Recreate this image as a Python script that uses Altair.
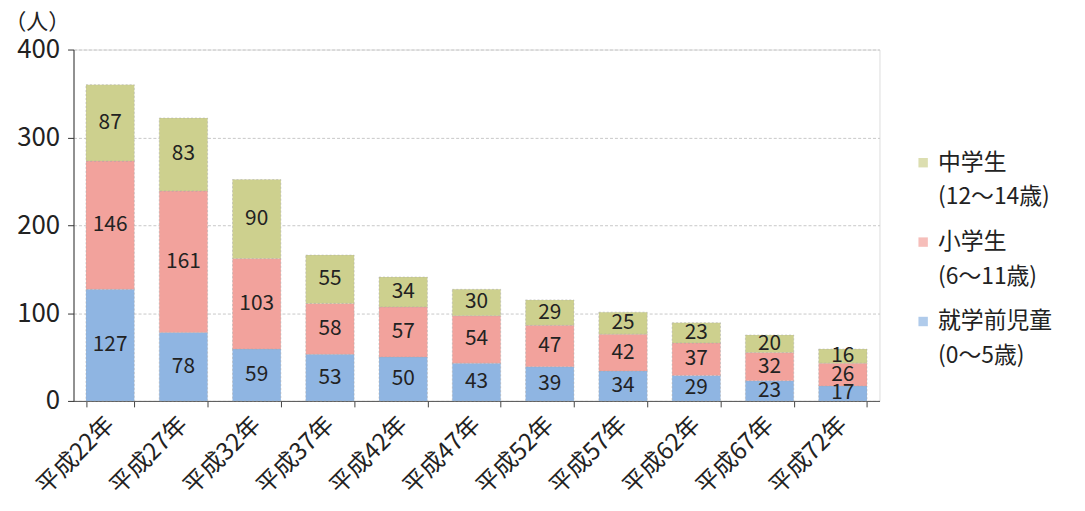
import altair as alt
import pandas as pd

years = ["平成22年", "平成27年", "平成32年", "平成37年", "平成42年", "平成47年",
         "平成52年", "平成57年", "平成62年", "平成67年", "平成72年"]
preschool = [127, 78, 59, 53, 50, 43, 39, 34, 29, 23, 17]
elementary = [146, 161, 103, 58, 57, 54, 47, 42, 37, 32, 26]
junior = [87, 83, 90, 55, 34, 30, 29, 25, 23, 20, 16]

series = ["中学生|(12～14歳)", "小学生|(6～11歳)", "就学前児童|(0～5歳)"]
colors = ["#cdd08e", "#f2a29c", "#8fb5e2"]

rows = []
for i, y in enumerate(years):
    rows.append({"year": y, "group": series[2], "value": preschool[i], "rank": 0})
    rows.append({"year": y, "group": series[1], "value": elementary[i], "rank": 1})
    rows.append({"year": y, "group": series[0], "value": junior[i], "rank": 2})
df = pd.DataFrame(rows)

FONT = "Noto Sans CJK JP"

base = alt.Chart(df).transform_stack(
    stack="value", groupby=["year"], as_=["v0", "v1"],
    sort=[alt.SortField("rank", order="ascending")]
).transform_calculate(mid="(datum.v0 + datum.v1) / 2")

xenc = alt.X("year:N", sort=years, title=None,
             scale=alt.Scale(paddingInner=0.34, paddingOuter=0.17),
             axis=alt.Axis(labelAngle=-45, labelAlign="right", labelBaseline="middle",
                           labelFontSize=24, labelFont=FONT, labelColor="#222",
                           tickBand="extent", tickColor="#444", tickSize=6, grid=False,
                           domainColor="#555", labelPadding=14, labelLimit=300))

bars = base.mark_bar(stroke="#a8a8a8", strokeWidth=0.5, strokeDash=[2, 2]).encode(
    x=xenc,
    y=alt.Y("v0:Q", scale=alt.Scale(domain=[0, 400]),
            axis=alt.Axis(values=[0, 100, 200, 300, 400], title="（人）", titleAngle=0,
                          titleX=-70, titleY=-28, titleFontSize=22, titleFont=FONT,
                          titleFontWeight="normal", titleColor="#222", titleAlign="left",
                          titleBaseline="middle",
                          labelFontSize=26, labelFont=FONT, labelColor="#222",
                          gridColor="#c8c8c8", gridDash=[3, 2], tickSize=6,
                          tickColor="#333", domainColor="#333", labelPadding=8)),
    y2="v1:Q",
    color=alt.Color("group:N", scale=alt.Scale(domain=series, range=colors), legend=None),
)

labels = base.mark_text(fontSize=21, font=FONT, color="#222").encode(
    x=alt.X("year:N", sort=years),
    y="mid:Q",
    text="value:Q",
)

layers = [bars, labels]
legend_top = [114, 194, 274]
for i, name in enumerate(series):
    ldf = pd.DataFrame({"label": [name]})
    sq = alt.Chart(ldf).mark_square(size=90, color=colors[i]).encode(
        x=alt.value(856), y=alt.value(legend_top[i]))
    tx = alt.Chart(ldf).transform_calculate(lines="split(datum.label, '|')").mark_text(
        align="left", baseline="middle", fontSize=23, font=FONT, color="#222",
        lineHeight=35).encode(
        x=alt.value(871), y=alt.value(legend_top[i]), text="lines:N")
    layers += [sq, tx]

chart = alt.layer(*layers).properties(
    width=812, height=354,
    autosize=alt.AutoSizeParams(type="none"),
    padding={"left": 66, "top": 40, "right": 199, "bottom": 101},
).configure_view(stroke=None).configure(font=FONT)

chart.save("out.html", embed_options={"renderer": "svg", "actions": False})
